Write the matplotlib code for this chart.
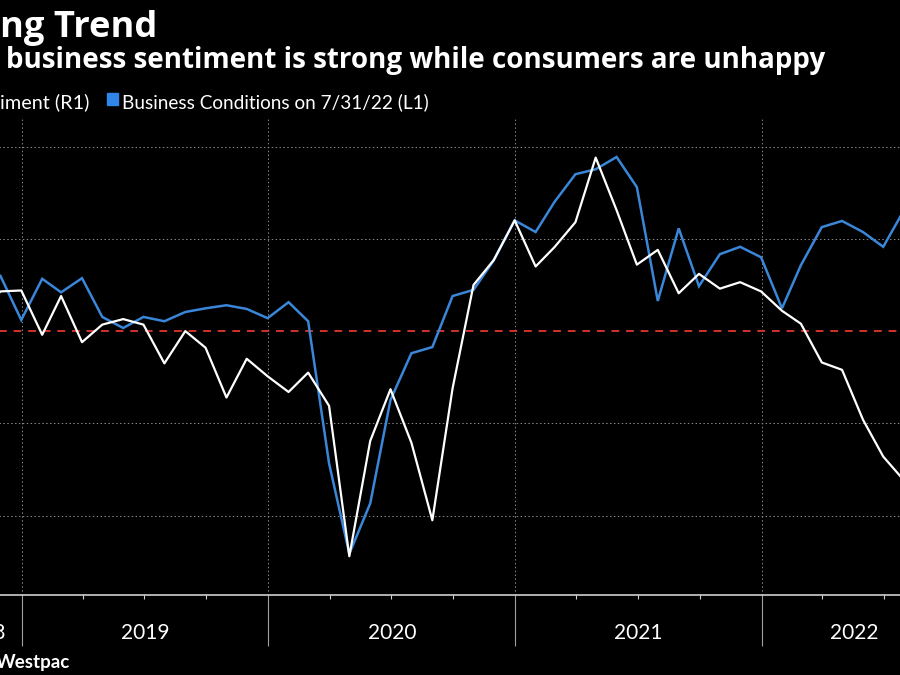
import numpy as np
import pandas as pd
import matplotlib
matplotlib.use('Agg')
import matplotlib.pyplot as plt
import matplotlib.dates as mdates
import matplotlib.transforms as mtransforms
from matplotlib.patches import Rectangle

# monthly data, Oct 2018 .. Jul 2022 (month ends)
months = pd.date_range('2018-10-01', periods=46, freq='MS') + pd.offsets.MonthEnd(1)

# Westpac consumer sentiment index (right axis)
sentiment = [101.5, 104.3, 104.4,
             99.6, 103.8, 98.8, 100.7, 101.3, 100.7, 96.5, 100.0, 98.2, 92.8, 97.0, 95.1,
             93.4, 95.5, 91.9, 75.6, 88.1, 93.7, 87.9, 79.5, 93.8, 105.0, 107.7, 112.0,
             107.0, 109.1, 111.8, 118.8, 113.1, 107.2, 108.8, 104.1, 106.2, 104.6, 105.3, 104.3,
             102.2, 100.8, 96.6, 95.8, 90.4, 86.4, 83.8]

# business conditions (left axis)
conditions = [10.0, 9.0, 1.8,
              8.5, 6.3, 8.6, 2.3, 0.5, 2.3, 1.6, 3.1, 3.7, 4.2, 3.6, 2.1,
              4.7, 1.6, -21.5, -36.2, -28.0, -11.2, -3.6, -2.6, 5.7, 6.7, 11.5, 18.0,
              16.1, 21.0, 25.5, 26.3, 28.3, 23.4, 4.9, 16.7, 7.3, 12.5, 13.7, 12.0,
              3.7, 10.7, 16.9, 17.9, 16.1, 13.7, 19.7]

years = [2018, 2019, 2020, 2021, 2022]

title = 'ng Trend'
subtitle = 'business sentiment is strong while consumers are unhappy'
legend_left = 'iment (R1)'
legend_blue = 'Business Conditions on 7/31/22 (L1)'
source = 'Westpac'

white = '#ffffff'
blue = '#3a86d8'
plt.rcParams['font.family'] = ['Lato', 'DejaVu Sans']
bold_font = ['Open Sans', 'DejaVu Sans']

W, H = 900, 675
fig = plt.figure(figsize=(W / 100, H / 100), dpi=100, facecolor='black')

x0, x1 = pd.Timestamp('2018-09-01'), pd.Timestamp('2022-10-01')
# axes box in pixels: left -60, right 946, top 117, bottom 595
ax = fig.add_axes([-60.4 / W, 80 / H, 1006.4 / W, 478 / H])
ax.set_facecolor('black')
ax.set_xlim(x0, x1)
ax.set_ylim((71.4 - 100) * 1.5, (123.2 - 100) * 1.5)

ax.plot(months, conditions, color=blue, lw=1.8, solid_joinstyle='miter', zorder=3)

ax.set_yticks([-30, -15, 15, 30])
ax.tick_params(axis='y', length=0, labelleft=False)
ax.grid(axis='y', color='#8a8a8a', lw=0.7, linestyle=(0, (1.5, 2.5)))
ax.axhline(0, color='#d0332d', lw=1.4, dashes=(4, 3.5), zorder=2)

ax.xaxis.set_major_locator(mdates.YearLocator())
ax.xaxis.set_minor_locator(mdates.MonthLocator(bymonth=[4, 7, 10]))
ax.tick_params(axis='x', which='major', length=37, width=0.8, color='#a0a0a0',
               labelbottom=False)
ax.tick_params(axis='x', which='minor', length=3, width=0.8, color='#d0d0d0')
ax.grid(axis='x', which='major', color='#8a8a8a', lw=0.7, linestyle=(0, (1.5, 2.5)))

for s in ['top', 'left', 'right']:
    ax.spines[s].set_visible(False)
ax.spines['bottom'].set_color('#e0e0e0')
ax.spines['bottom'].set_linewidth(1.1)

ax2 = ax.twinx()
ax2.set_ylim(71.4, 123.2)
ax2.plot(months, sentiment, color=white, lw=1.6, zorder=4)
ax2.set_yticks([])
for s in ax2.spines.values():
    s.set_visible(False)

# year labels centred on the visible part of each year
trans = mtransforms.blended_transform_factory(ax.transData, ax.transAxes)
for y in years:
    a = max(pd.Timestamp(f'{y}-01-01'), x0)
    b = min(pd.Timestamp(f'{y + 1}-01-01'), x1)
    mid = a + (b - a) / 2
    ax.text(mdates.date2num(mid), -0.0795, str(y), transform=trans, ha='center',
            va='center', color=white, fontsize=15)

fig.text(0 / W, 1 - 37 / H, title, color=white, fontsize=26.2, fontweight='bold',
         family=bold_font, va='baseline', ha='left')
fig.text(6 / W, 1 - 68 / H, subtitle, color=white, fontsize=20, fontweight='bold',
         family=bold_font, va='baseline', ha='left')
fig.text(0 / W, 1 - 108 / H, legend_left, color=white, fontsize=14.3,
         va='baseline', ha='left')
fig.add_artist(Rectangle((107 / W, 1 - 105 / H), 11 / W, 12 / H, color='#2f86e8',
                         transform=fig.transFigure))
fig.text(122 / W, 1 - 108 / H, legend_blue, color=white, fontsize=13.7,
         va='baseline', ha='left')
fig.text(-4 / W, 1 - 668 / H, source, color=white, fontsize=13.5, fontweight='bold',
         va='baseline', ha='left')

fig.savefig('out.png', dpi=100, facecolor='black')
